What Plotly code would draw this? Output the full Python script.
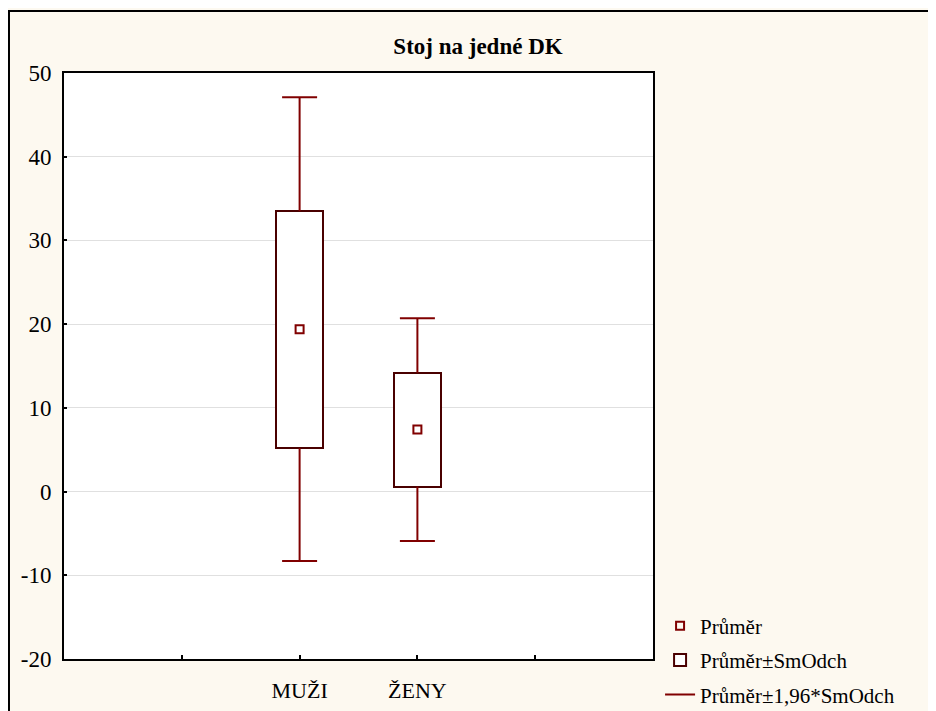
import plotly.graph_objects as go

# ---- data ----
categories = ["MUŽI", "ŽENY"]
means = [19.4, 7.4]
sd_low = [5.2, 0.6]
sd_high = [33.5, 14.2]
ci_low = [-8.3, -5.9]
ci_high = [47.1, 20.7]
y_ticks = [-20, -10, 0, 10, 20, 30, 40, 50]
y_tick_text = ["-20", "-10", "0", "10", "20", "30", "40", "50"]

title = "Stoj na jedné DK"
legend_names = ["Průměr", "Průměr±SmOdch", "Průměr±1,96*SmOdch"]

# ---- styles ----
WHISKER = "#800000"
BOXLINE = "#4a0000"
SERIF = "Liberation Serif"
BG = "#fdf9f0"
W, H = 928, 703  # page adds an 8px body margin

# categories occupy slots 2 and 3 on a 0..5 axis
xpos = [i + 2 for i in range(len(categories))]
tick_vals = [1] + xpos + [4]
tick_text = [""] + categories + [""]

fig = go.Figure()

fig.add_trace(go.Scatter(
    x=xpos, y=means, mode="markers", name=legend_names[0],
    legendgroup="a",
    marker=dict(symbol="square-open", size=8, color=WHISKER,
                line=dict(width=2, color=WHISKER)),
))

fig.add_trace(go.Bar(
    x=xpos, y=[h - l for h, l in zip(sd_high, sd_low)], base=sd_low,
    width=0.4, name=legend_names[1], legendgroup="b",
    marker=dict(color="white", line=dict(color=BOXLINE, width=2)),
))

wx, wy = [], []
for x, bl, bh, lo, hi in zip(xpos, sd_low, sd_high, ci_low, ci_high):
    wx += [x, x, None, x, x, None]
    wy += [bh, hi, None, bl, lo, None]
fig.add_trace(go.Scatter(
    x=wx, y=wy, mode="lines", name=legend_names[2], legendgroup="c",
    line=dict(color=WHISKER, width=2),
))
fig.add_trace(go.Scatter(
    x=xpos + xpos, y=ci_high + ci_low, mode="markers", showlegend=False,
    legendgroup="c",
    marker=dict(symbol="line-ew", size=25, color=WHISKER,
                line=dict(width=2, color=WHISKER)),
))

fig.update_layout(
    width=W, height=H,
    margin=dict(l=56, r=283, t=65, b=52, autoexpand=False),
    paper_bgcolor=BG, plot_bgcolor="white",
    showlegend=True,
    title=dict(text=f"<b>{title}</b>", x=470 / W, xref="container",
               xanchor="center", y=1 - 38 / H, yanchor="middle",
               yref="container",
               font=dict(family=SERIF, size=23, color="black")),
    legend=dict(x=1.012, xanchor="left", y=-0.095, yanchor="bottom",
                bgcolor="rgba(0,0,0,0)", tracegroupgap=4,
                font=dict(family=SERIF, size=21, color="black"),
                traceorder="grouped"),
    bargap=0,
    shapes=[dict(type="rect", xref="paper", yref="paper",
                 x0=-0.0934, x1=2.0, y0=-0.3, y1=1.1058,
                 line=dict(color="black", width=2), layer="below")],
)

fig.update_xaxes(
    range=[0, 5], tickvals=tick_vals, ticktext=tick_text,
    ticks="inside", ticklen=4, tickwidth=2, tickcolor="black",
    showgrid=False, zeroline=False,
    showline=True, linecolor="black", linewidth=2, mirror=True,
    ticklabelstandoff=11,
    tickfont=dict(family=SERIF, size=22, color="black"),
)
fig.update_yaxes(
    range=[-20, 50], tickvals=y_ticks, ticktext=y_tick_text,
    ticks="inside", ticklen=3, tickwidth=2, tickcolor="black",
    showgrid=True, gridcolor="#e0e0e0", gridwidth=1, zeroline=False,
    showline=True, linecolor="black", linewidth=2, mirror=True,
    ticklabelstandoff=6,
    tickfont=dict(family=SERIF, size=23, color="black"),
)

fig.write_html("out.html")
